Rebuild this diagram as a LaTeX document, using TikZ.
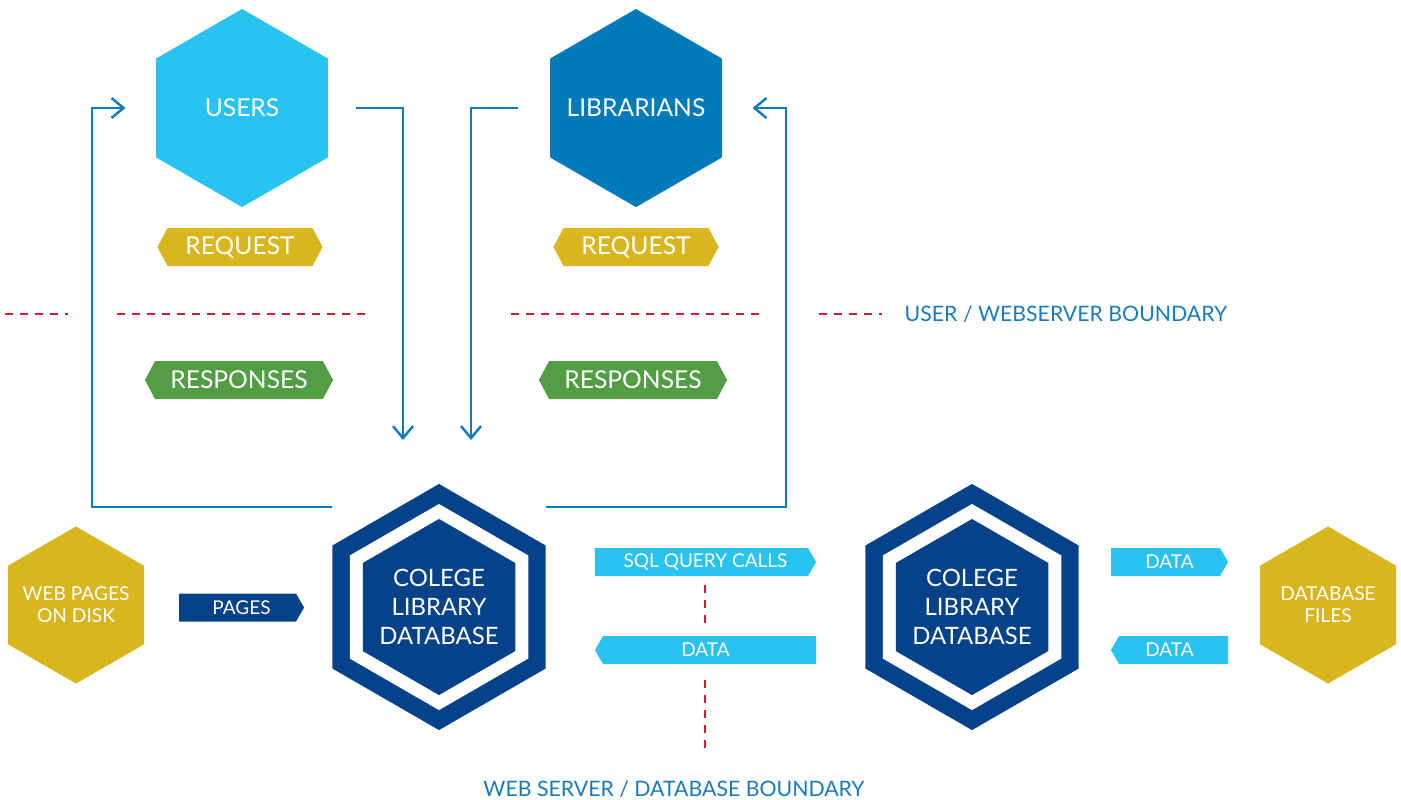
\documentclass[tikz,border=0pt]{standalone}
\usepackage{fontspec}
\setmainfont{Lato}
\usepackage{tikz}
\usetikzlibrary{positioning}
\usetikzlibrary{shapes}
\usetikzlibrary{arrows.meta}

\definecolor{skyblue}{RGB}{41,195,241}
\definecolor{libblue}{RGB}{0,122,184}
\definecolor{navy}{RGB}{6,66,137}
\definecolor{gold}{RGB}{217,181,30}
\definecolor{leaf}{RGB}{83,157,69}
\definecolor{flowblue}{RGB}{14,123,192}
\definecolor{labelblue}{RGB}{26,122,190}
\definecolor{boundred}{RGB}{208,28,45}

\tikzset{
	hexa/.style={regular polygon, regular polygon sides=6, shape border rotate=30, inner sep=0pt},
	hexa text/.style={text=white, align=center, inner sep=0pt},
	tag/.style={signal, signal to=east and west, signal pointer angle=124, inner sep=0pt, minimum width=1.65cm, minimum height=0.38cm, text=white, font=\fontsize{7}{8}\selectfont},
	msg/.style={signal, inner sep=0pt, minimum height=0.28cm, signal pointer angle=120, text=white, font=\fontsize{5.4}{6}\selectfont},
	flow/.style={draw=flowblue, line width=0.7pt, -{Straight Barb[length=1.2mm, width=2mm]}},
	boundary/.style={draw=boundred, line width=0.75pt, dash pattern=on 0.83mm off 0.67mm},
	bound label/.style={text=labelblue, inner sep=0pt, font=\fontsize{6.05}{7}\selectfont}
}

\begin{document}
\begin{tikzpicture}[x=0.01cm, y=-0.01cm]
			\useasboundingbox (0,0) rectangle (1401,799);

			% people
			\node[hexa, fill=skyblue, minimum size=1.98cm, label={[hexa text, font=\fontsize{7}{8}\selectfont]center:USERS}] (users) at (242,108) {};
			\node[hexa, fill=libblue, minimum size=1.98cm, label={[hexa text, font=\fontsize{7}{8}\selectfont]center:LIBRARIANS}] (librarians) at (636,108) {};

			\node[tag, fill=gold] (userreq) at (240,247) {REQUEST};
			\node[tag, fill=leaf, minimum width=1.88cm] (userresp) at (239,380) {RESPONSES};
			\node[tag, fill=gold] (libreq) at (636,247) {REQUEST};
			\node[tag, fill=leaf, minimum width=1.88cm] (libresp) at (633,380) {RESPONSES};

			% web server and database
			\node[hexa, fill=navy, minimum size=2.46cm] (server) at (439,607) {};
			\node[hexa, fill=white, minimum size=2.06cm] (serverring) at (server) {};
			\node[hexa, fill=navy, minimum size=1.76cm, label={[hexa text, font=\fontsize{6.8}{8.25}\selectfont]center:COLEGE\\LIBRARY\\DATABASE}] (servercore) at (server) {};

			\node[hexa, fill=navy, minimum size=2.46cm] (database) at (972,607) {};
			\node[hexa, fill=white, minimum size=2.06cm] (databasering) at (database) {};
			\node[hexa, fill=navy, minimum size=1.76cm, label={[hexa text, font=\fontsize{6.8}{8.25}\selectfont]center:COLEGE\\LIBRARY\\DATABASE}] (databasecore) at (database) {};

			\node[hexa, fill=gold, minimum size=1.57cm, label={[hexa text, font=\fontsize{5.45}{6.3}\selectfont]center:WEB PAGES\\ON DISK}] (webpages) at (76,605) {};
			\node[hexa, fill=gold, minimum size=1.57cm, label={[hexa text, font=\fontsize{5.45}{6.3}\selectfont]center:DATABASE\\FILES}] (dbfiles) at (1328,605) {};

			\node[msg, signal to=east, fill=navy, minimum width=1.25cm] (pages) at (237.5,607.5) {\hspace*{0.08cm}PAGES};
			\node[msg, signal to=east, fill=skyblue, minimum width=2.21cm] (sqlcalls) at (701.5,562) {\hspace*{0.08cm}SQL QUERY CALLS};
			\node[msg, signal to=west, fill=skyblue, minimum width=2.21cm] (sqldata) at (709.5,650) {DATA\hspace*{0.08cm}};
			\node[msg, signal to=east, fill=skyblue, minimum width=1.17cm] (filesin) at (1165.5,562) {\hspace*{0.08cm}DATA};
			\node[msg, signal to=west, fill=skyblue, minimum width=1.17cm] (filesout) at (1173.5,650) {DATA\hspace*{0.08cm}};

			% boundaries
			\path[boundary] (5,314) -- (68,314);
			\path[boundary] (117,314) -- (366,314);
			\path[boundary] (511,314) -- (760,314);
			\path[boundary] (819,314) -- (882,314);
			\path[boundary] (705,585) -- (705,628);
			\path[boundary] (705,680) -- (705,750);

			\node[bound label, anchor=west] (userbound) at (904,314) {USER / WEBSERVER BOUNDARY};
			\node[bound label] (dbbound) at (674,789) {WEB SERVER / DATABASE BOUNDARY};

			% request and response loops
			\coordinate (loopL) at (92,507);
			\coordinate (loopR) at (786,507);
			\coordinate (inU) at (403,440);
			\coordinate (inL) at (471,440);

			\path[flow] (server.west |- loopL) -- (loopL) |- ([xshift=-0.3cm]users.west);
			\path[flow] ([xshift=0.27cm]users.east) -| (inU);
			\path[flow] ([xshift=-0.31cm]librarians.west) -| (inL);
			\path[flow] (server.east |- loopR) -- (loopR) |- ([xshift=0.3cm]librarians.east);
\end{tikzpicture}
\end{document}
